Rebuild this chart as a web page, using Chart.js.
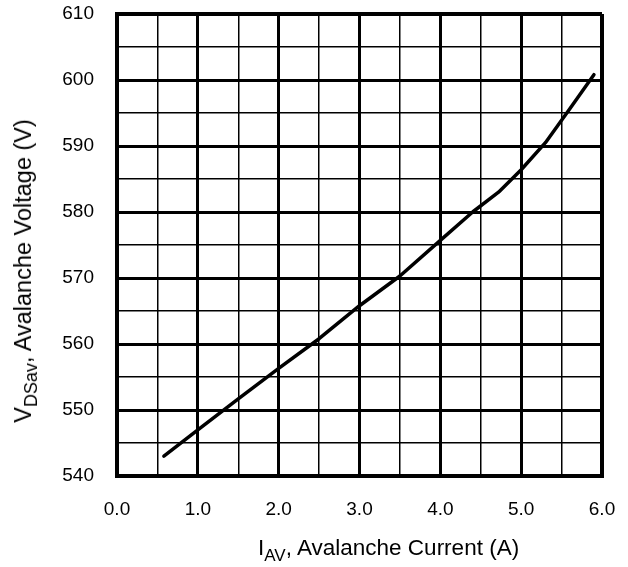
<!DOCTYPE html>
<html lang="en">
<head>
  <meta charset="UTF-8" />
  <title>Avalanche Voltage vs Avalanche Current</title>
  <script src="https://cdn.jsdelivr.net/npm/chart.js"></script>
  <style>
    body {
      margin: 0;
      background: #fff;
      font-family: "Liberation Sans", Arial, sans-serif;
    }

    .wrap {
      position: relative;
      width: 628px;
      height: 567px;
    }

    .axis-title {
      position: absolute;
      white-space: nowrap;
      line-height: 22px;
      color: #000;
    }

    .axis-title sub {
      vertical-align: baseline;
      position: relative;
      top: 6px;
    }

    #xTitle {
      left: 258px;
      top: 537px;
      font-size: 22.5px;
    }
    #xTitle sub { font-size: 17px; }

    #yTitle {
      left: 24px;
      top: 271px;
      font-size: 23.5px;
      transform: translate(-50%, -50%) rotate(-90deg);
    }
    #yTitle sub { font-size: 18px; }
  </style>
</head>
<body>
  <div class="wrap">
    <canvas id="vdsChart"></canvas>
    <div id="xTitle" class="axis-title">I<sub>AV</sub>, Avalanche Current (A)</div>
    <div id="yTitle" class="axis-title">V<sub>DSav</sub>, Avalanche Voltage (V)</div>
  </div>

  <script>
    // values
    const currentA = [0.58, 1.0, 1.5, 2.0, 2.5, 3.0, 3.5, 4.0, 4.4, 4.72, 5.0, 5.3, 5.6, 5.9];
    const voltageV = [543.0, 547.0, 551.7, 556.3, 560.8, 565.8, 570.3, 575.7, 580.0, 583.0, 586.4, 590.5, 595.6, 600.8];

    const xMin = 0, xMax = 6, xStep = 0.5;
    const yMin = 540, yMax = 610, yStep = 5;

    const points = currentA.map((x, i) => ({ x: x, y: voltageV[i] }));

    // thick lines on major ticks, thin on minor ones, frame on the edges
    function gridWidth(value, min, max, major) {
      if (value === min || value === max) return 4;
      const r = value / major;
      return Math.abs(r - Math.round(r)) < 1e-6 ? 3 : 1.5;
    }

    const tickFont = { family: "'Liberation Sans', Arial, sans-serif", size: 19 };

    new Chart(document.getElementById("vdsChart"), {
      type: "scatter",
      data: {
        datasets: [{
          data: points,
          showLine: true,
          borderColor: "#000",
          borderWidth: 3.5,
          borderCapStyle: "round",
          borderJoinStyle: "round",
          pointRadius: 0,
          tension: 0
        }]
      },
      options: {
        responsive: true,
        maintainAspectRatio: false,
        animation: false,
        layout: {
          padding: { top: 14, right: 26, left: 0, bottom: 0 }
        },
        plugins: {
          legend: { display: false },
          tooltip: { enabled: false }
        },
        scales: {
          x: {
            type: "linear",
            min: xMin,
            max: xMax,
            afterFit: (scale) => { scale.height = 91; },
            ticks: {
              stepSize: xStep,
              color: "#000",
              font: tickFont,
              padding: 0,
              maxRotation: 0,
              autoSkip: false,
              callback: (v) => Math.abs(v - Math.round(v)) < 1e-6 ? v.toFixed(1) : ""
            },
            grid: {
              color: "#000",
              drawTicks: true,
              tickLength: 22,
              tickColor: "rgba(0,0,0,0)",
              lineWidth: (ctx) => gridWidth(ctx.tick.value, xMin, xMax, 1)
            },
            border: { display: true, color: "#000", width: 4 }
          },
          y: {
            type: "linear",
            min: yMin,
            max: yMax,
            afterFit: (scale) => { scale.width = 117; },
            ticks: {
              stepSize: yStep,
              color: "#000",
              font: tickFont,
              padding: 0,
              autoSkip: false,
              callback: (v) => v % 10 === 0 ? v : ""
            },
            grid: {
              color: "#000",
              drawTicks: true,
              tickLength: 23,
              tickColor: "rgba(0,0,0,0)",
              lineWidth: (ctx) => gridWidth(ctx.tick.value, yMin, yMax, 10)
            },
            border: { display: true, color: "#000", width: 4 }
          }
        }
      }
    });
  </script>
</body>
</html>
